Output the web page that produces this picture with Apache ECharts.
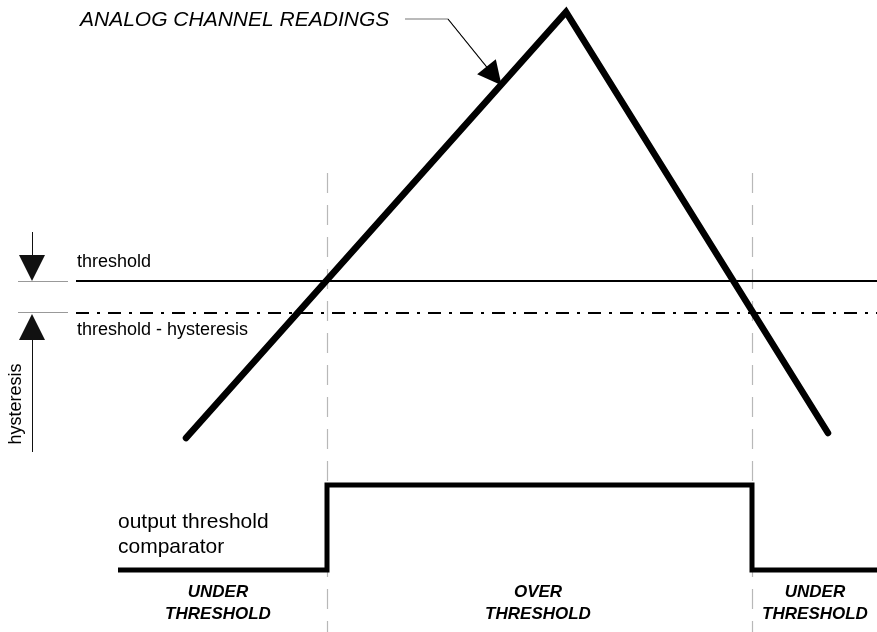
<!DOCTYPE html>
<html>
<head>
<meta charset="utf-8">
<script src="https://cdn.jsdelivr.net/npm/echarts@6/dist/echarts.min.js"></script>
<style>
  html, body { margin: 0; padding: 0; background: #fff; }
  #chart { width: 877px; height: 632px; }
</style>
</head>
<body>
<div id="chart"></div>
<script>
// drawing space: x 0..877, y 0..632 (y grows downward)
const readings = [[186, 438], [566, 12], [828, 433]];
const thresholdY = 281;
const hysteresisY = 313;
const levelStartX = 76;
const levelEndX = 877;
const comparator = [[118, 570], [327, 570], [327, 485], [752, 485], [752, 570], [877, 570]];
const switchX = [327, 752];
const guideTop = 173;

const tickLines = [[[18, 281], [68, 281]], [[18, 312], [68, 312]]];
// arrow lines end at the centre of their triangular head
const dimArrows = [[[32, 232], [32, 268]], [[32, 452], [32, 327]]];
const pointerPath = [[405, 19], [448, 19], [494, 76]];

const plainLabels = [
  { x: 77, y: 262, text: "threshold" },
  { x: 77, y: 330, text: "threshold - hysteresis" }
];
const outputLabels = [
  { x: 118, y: 522, text: "output threshold" },
  { x: 118, y: 547, text: "comparator" }
];
const stateLabels = [
  { x: 218, y: 592, text: "UNDER" }, { x: 218, y: 614, text: "THRESHOLD" },
  { x: 538, y: 592, text: "OVER" }, { x: 538, y: 614, text: "THRESHOLD" },
  { x: 815, y: 592, text: "UNDER" }, { x: 815, y: 614, text: "THRESHOLD" }
];
const titleLabel = { x: 80, y: 20, text: "ANALOG CHANNEL READINGS" };
const sideLabel = { x: 16, y: 404, text: "hysteresis" };

const font = "'Liberation Sans', Arial, sans-serif";

function textPoint(item, style) {
  return {
    value: [item.x, item.y],
    label: Object.assign({
      show: true, position: "inside", formatter: item.text,
      fontFamily: font, color: "#000", textBorderWidth: 0
    }, style)
  };
}

const chart = echarts.init(document.getElementById("chart"));

chart.setOption({
  animation: false,
  backgroundColor: "#fff",
  grid: { left: 0, right: 0, top: 0, bottom: 0 },
  xAxis: { type: "value", min: 0, max: 877, show: false },
  yAxis: { type: "value", min: 0, max: 632, inverse: true, show: false },
  series: [
    {
      type: "lines", coordinateSystem: "cartesian2d", z: 1,
      lineStyle: { color: "#b8b8b8", width: 1.2, type: [20, 12], opacity: 1 },
      data: switchX.map(x => ({ coords: [[x, guideTop], [x, 632]] }))
    },
    {
      type: "lines", coordinateSystem: "cartesian2d", z: 2,
      lineStyle: { color: "#000", width: 2, opacity: 1 },
      data: [{ coords: [[levelStartX, thresholdY], [levelEndX, thresholdY]] }]
    },
    {
      type: "lines", coordinateSystem: "cartesian2d", z: 2,
      lineStyle: { color: "#000", width: 2, type: [13, 8, 3, 8], opacity: 1 },
      data: [{ coords: [[levelStartX, hysteresisY], [levelEndX, hysteresisY]] }]
    },
    {
      type: "lines", coordinateSystem: "cartesian2d", z: 2,
      lineStyle: { color: "#999", width: 1, opacity: 1 },
      data: tickLines.map(c => ({ coords: c }))
    },
    {
      type: "lines", coordinateSystem: "cartesian2d", z: 2,
      symbol: ["none", "triangle"], symbolSize: [12, 26],
      lineStyle: { color: "#111", width: 1, opacity: 1 },
      data: dimArrows.map(c => ({ coords: c }))
    },
    {
      type: "lines", coordinateSystem: "cartesian2d", polyline: true, z: 2,
      lineStyle: { color: "#777", width: 1.2, opacity: 1 },
      data: [{ coords: pointerPath }]
    },
    {
      type: "lines", coordinateSystem: "cartesian2d", z: 3,
      symbol: ["none", "triangle"], symbolSize: [13, 24],
      lineStyle: { color: "#000", width: 1, opacity: 1 },
      data: [{ coords: [pointerPath[1], pointerPath[2]] }]
    },
    {
      type: "line", z: 4, symbol: "none",
      lineStyle: { color: "#000", width: 6.5, cap: "round", join: "miter" },
      data: readings
    },
    {
      type: "line", z: 4, symbol: "none",
      lineStyle: { color: "#000", width: 5, cap: "butt", join: "miter" },
      data: comparator
    },
    {
      type: "scatter", symbolSize: 0, z: 5,
      itemStyle: { opacity: 1 },
      data: plainLabels.map(l => textPoint(l, { fontSize: 18, align: "left", verticalAlign: "middle" }))
        .concat(outputLabels.map(l => textPoint(l, { fontSize: 21, align: "left", verticalAlign: "middle" })))
        .concat(stateLabels.map(l => textPoint(l, { fontSize: 17, fontWeight: "bold", fontStyle: "italic", align: "center", verticalAlign: "middle" })))
        .concat([textPoint(titleLabel, { fontSize: 21, fontStyle: "italic", align: "left", verticalAlign: "middle" })])
        .concat([textPoint(sideLabel, { fontSize: 18, rotate: 90, align: "center", verticalAlign: "middle" })])
    }
  ]
});
</script>
</body>
</html>
